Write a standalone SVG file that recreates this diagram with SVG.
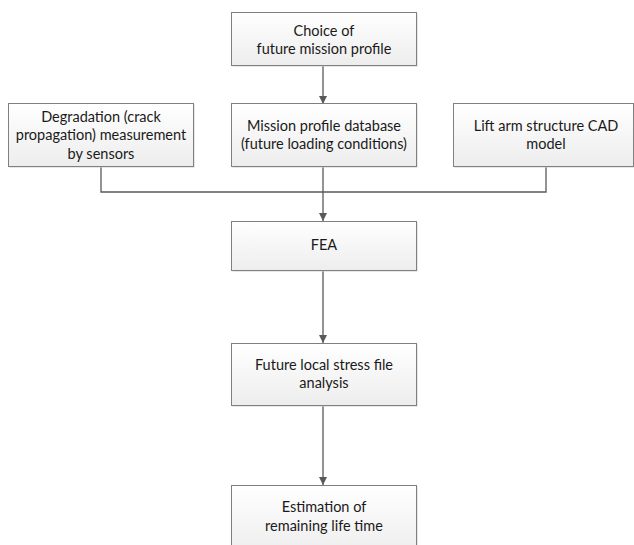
<svg xmlns="http://www.w3.org/2000/svg" width="634" height="545" viewBox="0 0 634 545">
<defs>
<linearGradient id="g" x1="0" y1="0" x2="0" y2="1">
<stop offset="0" stop-color="#ffffff"/>
<stop offset="1" stop-color="#ededed"/>
</linearGradient>
<marker id="ah" viewBox="0 0 10 10" refX="10" refY="5" markerWidth="8" markerHeight="8" markerUnits="userSpaceOnUse" orient="auto">
<path d="M0,0 L10,5 L0,10 z" fill="#595959"/>
</marker>
</defs>
<style>
.box{fill:url(#g);stroke:#808080;stroke-width:1}
.sh{fill:#d0d0d0}
.t{font-family:"Lato","Liberation Sans",sans-serif;font-size:14.5px;fill:#1a1a1a;text-anchor:middle}
.c{fill:none;stroke:#595959;stroke-width:1.3}
</style>
<rect width="634" height="545" fill="#ffffff"/>
<g id="connectors">
<line class="c" x1="323" y1="65" x2="323" y2="104" marker-end="url(#ah)"/>
<polyline class="c" points="101,167 101,192 546,192 546,167"/>
<line class="c" x1="323" y1="167" x2="323" y2="221" marker-end="url(#ah)"/>
<line class="c" x1="323" y1="270" x2="323" y2="343" marker-end="url(#ah)"/>
<line class="c" x1="323" y1="406" x2="323" y2="485" marker-end="url(#ah)"/>
</g>
<g id="choice">
<rect class="sh" x="232.5" y="13.5" width="185" height="53"/>
<rect class="box" x="231.5" y="12.5" width="185" height="53"/>
<text class="t" x="324" y="36">Choice of</text>
<text class="t" x="324" y="54">future mission profile</text>
</g>
<g id="degradation">
<rect class="sh" x="9.5" y="104.5" width="185" height="63"/>
<rect class="box" x="8.5" y="103.5" width="185" height="63"/>
<text class="t" x="101" y="122">Degradation (crack</text>
<text class="t" x="101" y="140">propagation) measurement</text>
<text class="t" x="101" y="159">by sensors</text>
</g>
<g id="mission">
<rect class="sh" x="232.5" y="104.5" width="185" height="63"/>
<rect class="box" x="231.5" y="103.5" width="185" height="63"/>
<text class="t" x="324" y="131">Mission profile database</text>
<text class="t" x="324" y="149">(future loading conditions)</text>
</g>
<g id="cad">
<rect class="sh" x="454.5" y="104.5" width="180" height="63"/>
<rect class="box" x="453.5" y="103.5" width="180" height="63"/>
<text class="t" x="546" y="131">Lift arm structure CAD</text>
<text class="t" x="546" y="149">model</text>
</g>
<g id="fea">
<rect class="sh" x="232.5" y="222.5" width="185" height="49"/>
<rect class="box" x="231.5" y="221.5" width="185" height="49"/>
<text class="t" x="324" y="250">FEA</text>
</g>
<g id="stress">
<rect class="sh" x="232.5" y="344.5" width="185" height="62"/>
<rect class="box" x="231.5" y="343.5" width="185" height="62"/>
<text class="t" x="324" y="370">Future local stress file</text>
<text class="t" x="324" y="388">analysis</text>
</g>
<g id="estimation">
<rect class="sh" x="232.5" y="486.5" width="185" height="70"/>
<rect class="box" x="231.5" y="485.5" width="185" height="70"/>
<text class="t" x="324" y="512">Estimation of</text>
<text class="t" x="324" y="531">remaining life time</text>
</g>
</svg>
